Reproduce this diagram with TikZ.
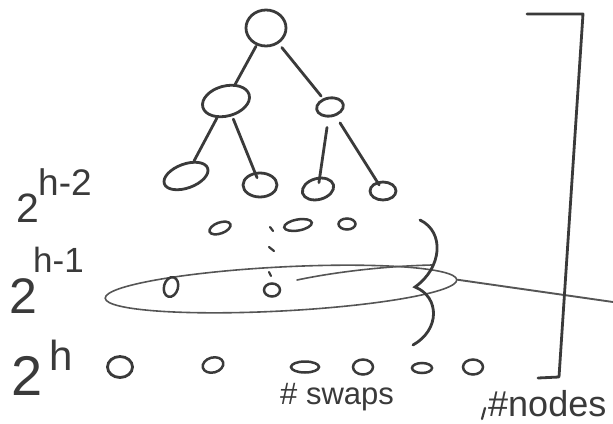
\documentclass[tikz,border=0pt]{standalone}
\usepackage{fontspec}
\setmainfont{Liberation Sans}
\usetikzlibrary{shapes.geometric}
\definecolor{pen}{HTML}{3A3A3A}
\definecolor{pencil}{HTML}{555555}
\tikzset{
  tnode/.style={draw=pen, line width=2.8pt, ellipse, inner sep=0pt},
  edge/.style={draw=pen, line width=2.8pt, line cap=round},
  thin/.style={draw=pencil, line width=1.6pt, line cap=round},
  lbl/.style={inner sep=0pt, anchor=base west, text=pen},
}
\begin{document}
\begin{tikzpicture}[x=1pt,y=-1pt]
\useasboundingbox (0,0) rectangle (613,423);
% tree
\node[tnode, minimum width=40pt, minimum height=36pt] (root) at (266,28) {};
\node[tnode, minimum width=48pt, minimum height=30pt, rotate=15] (l1) at (226,101) {};
\node[tnode, minimum width=27pt, minimum height=18pt, rotate=10] (r1) at (330,107) {};
\node[tnode, minimum width=46pt, minimum height=24pt, rotate=20] (ll) at (186,176) {};
\node[tnode, minimum width=34pt, minimum height=24pt] (lr) at (260,185) {};
\node[tnode, minimum width=32pt, minimum height=21pt, rotate=15] (rl) at (318,189) {};
\node[tnode, minimum width=26pt, minimum height=18pt] (rr) at (383,191) {};
\draw[edge, shorten <=1pt] (root) -- (l1);
\draw[edge, shorten <=5pt, shorten >=3pt] (root) -- (r1);
\draw[edge] (l1) -- (ll);
\draw[edge, shorten <=3pt, shorten >=-6pt] (l1) -- (lr);
\draw[edge, shorten <=10pt, shorten >=-6pt] (r1) -- (rl);
\draw[edge, shorten <=8pt, shorten >=-4pt] (r1) -- (rr);
% level h-1 (upper dotted row)
\node[tnode, line width=2.5pt, minimum width=22pt, minimum height=11pt, rotate=20] (a1) at (220,228) {};
\node[tnode, line width=2.5pt, minimum width=28pt, minimum height=11pt, rotate=10] (a2) at (298,225) {};
\node[tnode, line width=2.5pt, minimum width=17pt, minimum height=11pt] (a3) at (347,224) {};
\draw[edge, line width=2.2pt] (270,227) -- (273,231);
\draw[edge, line width=2.2pt] (269,247) -- (274,251);
\draw[edge, line width=2.2pt] (269,272) -- (271,276);
% grouped row
\node[ellipse, thin, minimum width=352pt, minimum height=44pt, rotate=3, inner sep=0pt] (grp) at (281,289) {};
\draw[thin] (297,280) .. controls (340,271) and (390,266) .. (432,265);
\node[tnode, line width=2.5pt, minimum width=14pt, minimum height=20pt, rotate=-15] (b1) at (171,287) {};
\node[tnode, line width=2.5pt, minimum width=16pt, minimum height=13pt] (b2) at (272,290) {};
\coordinate (far) at (613,302);
\draw[thin, line width=1.9pt] (grp.east) -- (far);
% brace
\draw[edge] (420,220) .. controls (445,232) and (442,268) .. (415,287)
            .. controls (440,297) and (440,330) .. (413,345);
% bottom row
\node[tnode, minimum width=25pt, minimum height=21pt] (c1) at (120,367) {};
\node[tnode, line width=2.5pt, minimum width=21pt, minimum height=15pt, rotate=15] (c2) at (213,365) {};
\node[tnode, line width=2.5pt, minimum width=28pt, minimum height=11pt] (c3) at (305,367) {};
\node[tnode, line width=2.5pt, minimum width=20pt, minimum height=15pt] (c4) at (363,367) {};
\node[tnode, line width=2.5pt, minimum width=20pt, minimum height=10pt] (c5) at (422,368) {};
\node[tnode, line width=2.5pt, minimum width=20pt, minimum height=15pt] (c6) at (473,367) {};
% bracket
\draw[edge, line join=round] (527,14) -- (583,14) -- (559,377) -- (538,378);
\draw[edge, line width=2.2pt] (485,408) -- (482,419);
% labels
\node[lbl, font=\fontsize{41}{41}\selectfont] (two2) at (16,222) {2};
\node[lbl, font=\fontsize{37}{37}\selectfont] (e2) at (38,195) {h-2};
\node[lbl, font=\fontsize{50}{50}\selectfont] (two1) at (9,313) {2};
\node[lbl, font=\fontsize{35}{35}\selectfont] (e1) at (33,272) {h-1};
\node[lbl, font=\fontsize{56}{56}\selectfont] (two0) at (11,395) {2};
\node[lbl, font=\fontsize{42}{42}\selectfont] (e0) at (49,370) {h};
\node[lbl, font=\fontsize{31}{31}\selectfont] (swaps) at (280,404) {\# swaps};
\node[lbl, font=\fontsize{36}{36}\selectfont] (nodes) at (488,416) {\#nodes};
\end{tikzpicture}
\end{document}
